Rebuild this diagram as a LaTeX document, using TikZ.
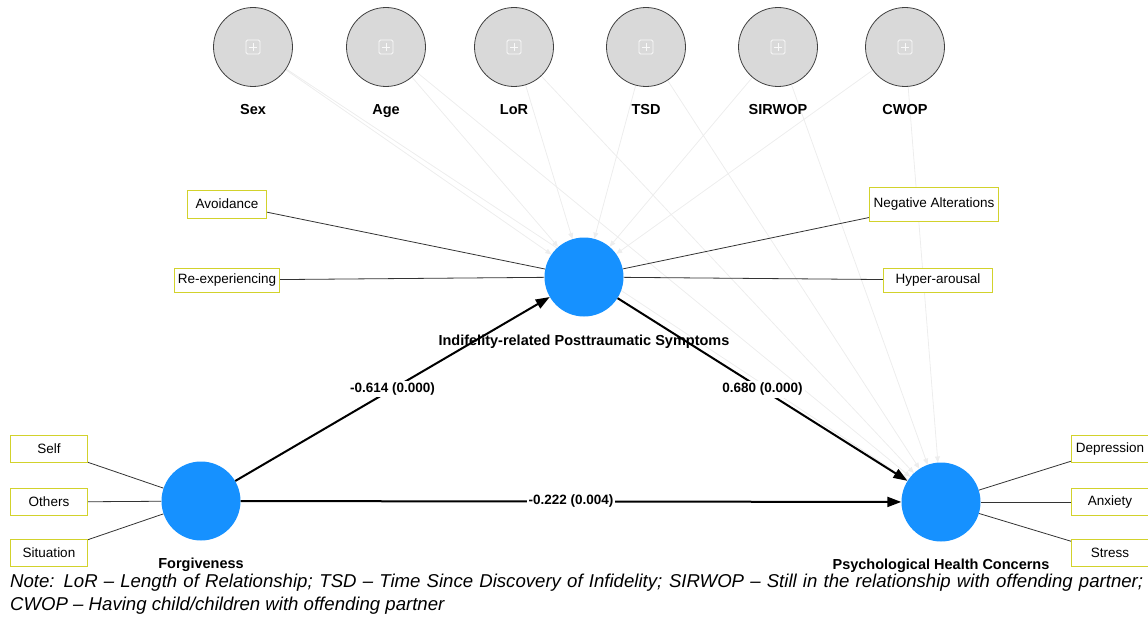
\documentclass[tikz,border=0pt]{standalone}
\usepackage{fontspec}
\setmainfont{Liberation Sans}
\usetikzlibrary{shapes,arrows.meta,positioning,calc,backgrounds}

\definecolor{ctrlgray}{HTML}{D9D9D9}
\definecolor{latentblue}{HTML}{1691FF}
\definecolor{boxyellow}{HTML}{D2D22C}
\definecolor{faintgray}{HTML}{EDEDED}

\begin{document}
\begin{tikzpicture}[x=1pt, y=-1pt,
    control/.style={draw=black!75, fill=ctrlgray, circle, minimum size=79pt, line width=0.8pt},
    latent/.style={fill=latentblue, circle, minimum size=79pt, inner sep=0pt},
    indicator/.style={draw=boxyellow, fill=white, line width=1pt, minimum width=77pt, minimum height=27pt, inner xsep=3pt, font=\fontsize{13.5}{16}\selectfont},
    lbl/.style={inner sep=0pt, text height=10.5pt, text depth=3pt, font=\fontsize{14.5}{17}\selectfont\bfseries},
    effect/.style={-{Triangle[length=14pt,width=10pt]}, line width=2pt},
    coef/.style={fill=white, inner sep=2pt, font=\fontsize{13.5}{16}\selectfont\bfseries},
    loading/.style={draw=black!80, line width=0.8pt},
    covar/.style={faintgray, line width=0.8pt, -{Triangle[length=6pt,width=5pt]}},
    icon/.style={white!85!ctrlgray, line width=0.9pt},
    note/.style={anchor=base west, inner sep=0pt, font=\fontsize{18.6}{22}\selectfont\itshape}
]
    \useasboundingbox (0,0) rectangle (1148,618);

    % control variables
    \foreach \name/\txt/\x in {sex/Sex/253, age/Age/386, lor/LoR/514, tsd/TSD/646, sirwop/SIRWOP/778, cwop/CWOP/905} {
        \node (\name) [control] at (\x,47) {};
        \node (\name lbl) [lbl, below=16.5pt of \name] {\txt};
        \draw [icon, rounded corners=1.5pt] ($(\name)+(-7,-7)$) rectangle ($(\name)+(7,7)$);
        \draw [icon] ($(\name)+(-4,0)$) -- ($(\name)+(4,0)$);
        \draw [icon] ($(\name)+(0,-4)$) -- ($(\name)+(0,4)$);
    }

    % latent variables
    \node (ipts) [latent] at (584,277) {};
    \node (forg) [latent] at (201,501) {};
    \node (phc) [latent] at (941,502) {};
    \node (iptslbl) [lbl, below=18pt of ipts] {Indifelity-related Posttraumatic Symptoms};
    \node (forglbl) [lbl, below=17.5pt of forg] {Forgiveness};
    \node (phclbl) [lbl, below=17.5pt of phc] {Psychological Health Concerns};

    % indicators
    \node (avoid) [indicator, minimum width=79pt, minimum height=28pt] at (227,204) {Avoidance};
    \node (reexp) [indicator, minimum width=101pt, minimum height=24pt] at (227,280) {Re-experiencing};
    \node (negalt) [indicator, minimum width=129pt, minimum height=34pt] at (934,204) {Negative Alterations};
    \node (hyper) [indicator, minimum width=109pt, minimum height=24pt] at (938,280) {Hyper-arousal};
    \node (self) [indicator] at (49,449) {Self};
    \node (others) [indicator] at (49,502) {Others};
    \node (situ) [indicator] at (49,553) {Situation};
    \node (depr) [indicator] at (1110,449) {Depression};
    \node (anx) [indicator] at (1110,502) {Anxiety};
    \node (stress) [indicator] at (1110,553) {Stress};

    \begin{scope}[on background layer]
        \foreach \name in {sex,age,lor,tsd,sirwop,cwop} {
            \draw [covar] (\name) -- (ipts);
            \draw [covar] (\name) -- (phc);
        }
        \foreach \ind in {avoid,reexp,negalt,hyper}
            \draw [loading] (\ind) -- (ipts);
        \foreach \ind in {self,others,situ}
            \draw [loading] (\ind) -- (forg);
        \foreach \ind in {depr,anx,stress}
            \draw [loading] (\ind) -- (phc);
    \end{scope}

    % structural paths
    \draw [effect] (forg) -- node [coef] {-0.614 (0.000)} (ipts);
    \draw [effect] (ipts) -- node [coef] {0.680 (0.000)} (phc);
    \draw [effect] (forg) -- node [coef] {-0.222 (0.004)} (phc);

    \node (note1) [note] at (10,587) {\makebox[1133pt][s]{Note: LoR – Length of Relationship; TSD – Time Since Discovery of Infidelity; SIRWOP – Still in the relationship with offending partner;}};
    \node (note2) [note] at (10,610) {CWOP – Having child/children with offending partner};
\end{tikzpicture}
\end{document}
